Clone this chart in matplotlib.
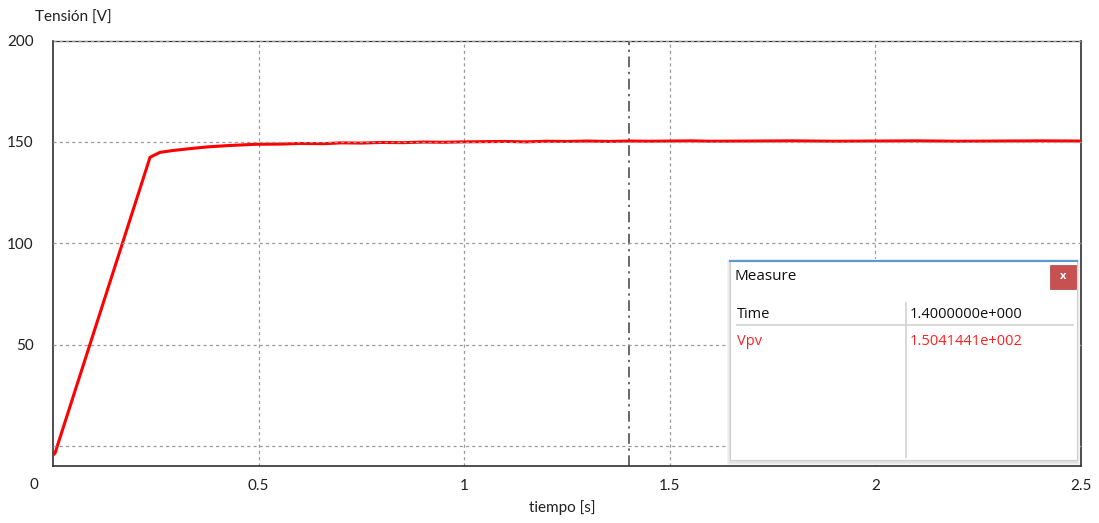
import matplotlib
matplotlib.use("Agg")
import matplotlib.pyplot as plt
from matplotlib.patches import Rectangle

# ---------------- data ----------------
t_values = [0.0, 0.005, 0.236, 0.245, 0.26, 0.29, 0.33, 0.375, 0.42, 0.49, 0.55, 0.60, 0.66,
            0.70, 0.75, 0.80, 0.85, 0.90, 0.95, 1.00, 1.05, 1.10, 1.15, 1.20, 1.25, 1.30,
            1.35, 1.40, 1.45, 1.50, 1.55, 1.60, 1.70, 1.80, 1.90, 2.00, 2.10, 2.20,
            2.30, 2.40, 2.50]
v_values = [-4.5, -3.5, 142.4, 143.3, 144.8, 145.7, 146.6, 147.5, 148.1, 148.8, 148.9, 149.2, 149.1,
            149.5, 149.4, 149.7, 149.6, 149.9, 149.8, 150.0, 150.1, 150.2, 150.0, 150.3, 150.2, 150.4,
            150.2, 150.4, 150.3, 150.4, 150.5, 150.3, 150.4, 150.5, 150.3, 150.4, 150.5, 150.3,
            150.4, 150.5, 150.4]

x_ticks = [0.5, 1, 1.5, 2, 2.5]
x_tick_labels = ["0.5", "1", "1.5", "2", "2.5"]
y_ticks = [50, 100, 150, 200]
y_tick_labels = ["50", "100", "150", "200"]
grid_x = [0.5, 1.0, 1.5, 2.0]
grid_y = [0, 50, 100, 150, 200]
cursor_t = 1.4

measure_rows = [("Time", "1.4000000e+000"), ("Vpv", "1.5041441e+002")]

# ---------------- figure ----------------
plt.rcParams['font.family'] = ['Lato', 'DejaVu Sans']
W, H = 1099, 523
fig = plt.figure(figsize=(W / 100, H / 100), dpi=100)
fig.patch.set_facecolor("white")

ax = fig.add_axes([53 / W, 1 - 466 / H, (1081 - 53) / W, (466 - 40.5) / H])
ax.set_xlim(0, 2.5)
ax.set_ylim(-9.9, 200)

for gx in grid_x:
    ax.axvline(gx, color="#9a9a9a", lw=0.9, ls=(0, (2.5, 2.5)), zorder=1)
for gy in grid_y:
    ax.axhline(gy, color="#9a9a9a", lw=0.9, ls=(0, (2.5, 2.5)), zorder=4, clip_on=False)

ax.axvline(cursor_t, color="#404040", lw=1.1, ls=(0, (7, 3, 1.5, 3)), zorder=2)

ax.plot(t_values, v_values, color="#ff0000", lw=2.2, zorder=3, solid_joinstyle="round")

for s in ax.spines.values():
    s.set_color("#303030")
    s.set_linewidth(1.2)
ax.spines["top"].set_linewidth(0.9)

ax.set_xticks(x_ticks)
ax.set_xticklabels(x_tick_labels)
ax.set_yticks(y_ticks)
ax.set_yticklabels(y_tick_labels)
ax.tick_params(axis="both", length=0, labelsize=11, colors="#202020")
ax.tick_params(axis="y", pad=14)
ax.tick_params(axis="x", pad=9)

# the origin label
fig.text(34 / W, 1 - 485 / H, "0", ha="center", va="center", fontsize=11, color="#202020")
fig.text(35 / W, 1 - 18 / H, "Tensión [V]", ha="left", va="center", fontsize=11, color="#202020")
fig.text(562 / W, 1 - 508 / H, "tiempo [s]", ha="center", va="center", fontsize=11, color="#202020")

# ---------------- Measure window ----------------
mx0, my0, mx1, my1 = 724, 256, 1083, 467
m = fig.add_axes([mx0 / W, 1 - my1 / H, (mx1 - mx0) / W, (my1 - my0) / H])
m.set_xlim(mx0, mx1)
m.set_ylim(my1, my0)
m.axis("off")
m.set_zorder(10)
# shadow
for i, c in enumerate(["#f4f4f4", "#ebebeb", "#e2e2e2"]):
    m.add_patch(Rectangle((727 + i, 259 + i), 353 - 2 * i, 206 - 2 * i, facecolor=c, edgecolor="none"))
m.add_patch(Rectangle((730, 261), 347, 199, facecolor="white", edgecolor="#cfcfcf", lw=0.8))
m.plot([730, 1077], [261.5, 261.5], color="#5b9bd5", lw=1.5)
m.text(735, 277, "Measure", fontsize=11, va="center", ha="left", color="#101010",
       family=["Open Sans", "DejaVu Sans"])
m.add_patch(Rectangle((1050, 265), 26, 24, facecolor="#c75050", edgecolor="#b04040", lw=0.5))
m.text(1063, 276.5, "x", fontsize=8, va="center", ha="center", color="white",
       family=["Open Sans", "DejaVu Sans"], fontweight="bold")
m.plot([906, 906], [303, 457], color="#d4d4d4", lw=1.3)
m.plot([737, 1073], [325, 325], color="#d4d4d4", lw=1.3)
row_y = [315, 342]
row_col = ["#101010", "#ff2020"]
for (name, val), yy, cc in zip(measure_rows, row_y, row_col):
    m.text(737, yy, name, fontsize=10.5, va="center", ha="left", color=cc,
           family=["Open Sans", "DejaVu Sans"])
    m.text(910, yy, val, fontsize=10.5, va="center", ha="left", color=cc,
           family=["Open Sans", "DejaVu Sans"])

fig.savefig("out.png", dpi=100, facecolor="white")
